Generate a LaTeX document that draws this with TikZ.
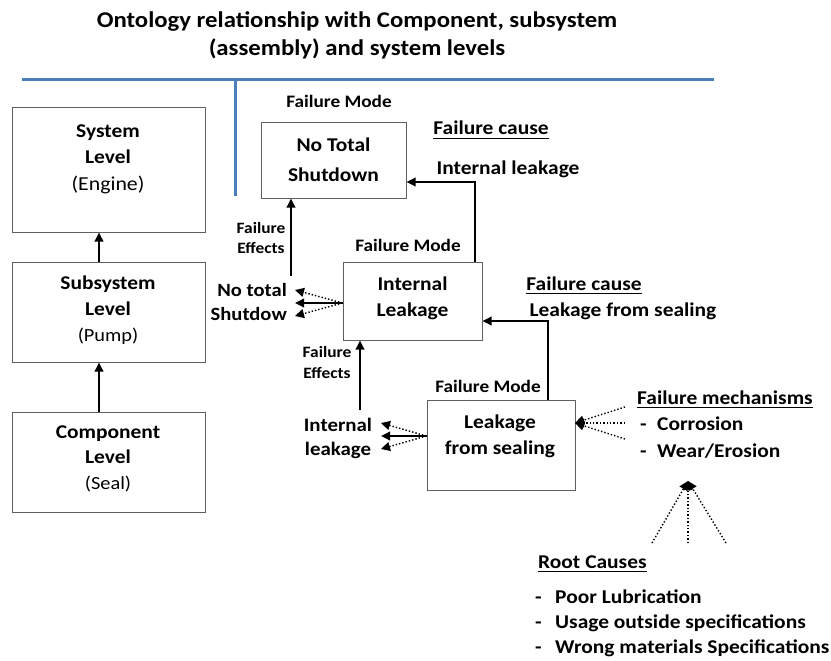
\documentclass[tikz,border=0pt]{standalone}
\usepackage{fontspec}
\setmainfont{Carlito}[FakeStretch=1.1]
\usetikzlibrary{arrows.meta}
\definecolor{rulerblue}{RGB}{74,126,187}
\definecolor{boxgrey}{RGB}{95,95,95}
\newcommand{\fsz}[1]{\fontsize{#1}{#1}\selectfont}
\begin{document}
\begin{tikzpicture}[x=1pt,y=-1pt,
  box/.style={draw=boxgrey,line width=1pt,inner sep=0,fill=white},
  txt/.style={inner sep=0,anchor=base,font=\bfseries\fsz{19.5}},
  small/.style={inner sep=0,anchor=base,font=\bfseries\fsz{17.5}},
  tiny/.style={inner sep=0,anchor=base,font=\bfseries\fsz{15.8}},
  plain/.style={inner sep=0,anchor=base,font=\fsz{#1}},
  conn/.style={line width=1.8pt,-{Triangle[length=9pt,width=8.5pt]}},
  dconn/.style={line width=1.4pt,dotted,-{Triangle[length=9pt,width=9pt]}},
  ulined/.style={line width=1.3pt},
  ruler/.style={draw=rulerblue,line width=3pt}]
\useasboundingbox (0,0) rectangle (831,661);

% title
\node[txt,font=\bfseries\fsz{22.5}] (t1) at (357,28) {Ontology relationship with Component, subsystem};
\node[txt,font=\bfseries\fsz{22.5}] (t2) at (357,56) {(assembly) and system levels};
\coordinate (rl) at (22,80);
\coordinate (rr) at (714,80);
\coordinate (rv) at (235,80);
\coordinate (rb) at (235,196);
\draw[ruler] (rl) -- (rr);
\draw[ruler] (rv) -- (rb);

% level boxes
\node[box,minimum width=193pt,minimum height=124pt] (sys) at (108.5,170) {};
\node[box,minimum width=193pt,minimum height=100pt] (sub) at (108.5,312) {};
\node[box,minimum width=193pt,minimum height=100pt] (comp) at (108.5,462) {};
\node[txt] (sysa) at (108,137) {System};
\node[txt] (sysb) at (108,164) {Level};
\node[plain=19.8] (sysc) at (108,190) {(Engine)};
\node[txt] (suba) at (108,289) {Subsystem};
\node[txt] (subb) at (108,315) {Level};
\node[plain=18.5] (subc) at (108,341) {(Pump)};
\node[txt] (compa) at (108,438) {Component};
\node[txt] (compb) at (108,463) {Level};
\node[plain=18.5] (compc) at (108,489) {(Seal)};
\draw[conn] ([xshift=-9.5pt]sub.north) -- ([xshift=-9.5pt]sys.south);
\draw[conn] ([xshift=-9.5pt]comp.north) -- ([xshift=-9.5pt]sub.south);

% failure mode boxes
\node[box,minimum width=145pt,minimum height=75pt] (nt) at (333.5,160.5) {};
\node[box,minimum width=139pt,minimum height=78pt] (il) at (412.5,301) {};
\node[box,minimum width=148pt,minimum height=90pt] (ls) at (501,445) {};
\node[txt] (nta) at (333.5,151) {No Total};
\node[txt] (ntb) at (333.5,181) {Shutdown};
\node[txt] (ila) at (412.5,290) {Internal};
\node[txt] (ilb) at (412.5,316) {Leakage};
\node[txt] (lsa) at (500,428) {Leakage};
\node[txt] (lsb) at (500,454) {from sealing};
\node[small] (fm1) at (339,107) {Failure Mode};
\node[small] (fm2) at (408,251) {Failure Mode};
\node[small] (fm3) at (488,392) {Failure Mode};

% failure causes
\node[txt] (fc1) at (491,135) {Failure cause};
\draw[ulined] ([yshift=-3.5pt]fc1.base west) -- ([yshift=-3.5pt]fc1.base east);
\node[txt] (fc1t) at (508,174) {Internal leakage};
\node[txt] (fc2) at (584,290) {Failure cause};
\draw[ulined] ([yshift=-3.5pt]fc2.base west) -- ([yshift=-3.5pt]fc2.base east);
\node[txt] (fc2t) at (623,316) {Leakage from sealing};
\draw[conn] ([xshift=62.5pt]il.north) |- ([yshift=-21.5pt]nt.east);
\draw[conn] ([xshift=47pt]ls.north) |- ([yshift=-20pt]il.east);

% failure effects of the internal leakage
\node[tiny] (fe1a) at (261,233) {Failure};
\node[tiny] (fe1b) at (261,253) {Effects};
\coordinate (fe1s) at (291,276);
\draw[conn] (fe1s) -- (fe1s |- nt.south);
\node[txt,anchor=base east,font=\bfseries\fsz{18.7}] (nsa) at (287,296) {No total};
\node[txt,anchor=base east,font=\bfseries\fsz{18.7}] (nsb) at (287,320) {Shutdow};
\coordinate (ns1) at (295,290);
\coordinate (ns2) at (295,303);
\coordinate (ns3) at (295,316);
\draw[dconn] ([yshift=-2pt]il.west) -- (ns1);
\draw[conn] ([yshift=-2pt]il.west) -- (ns2);
\draw[dconn] ([yshift=-2pt]il.west) -- (ns3);

% failure effects of the sealing leakage
\node[tiny] (fe2a) at (327,357) {Failure};
\node[tiny] (fe2b) at (327,378) {Effects};
\coordinate (fe2s) at (360,410);
\draw[conn] (fe2s) -- (fe2s |- il.south);
\node[txt,font=\bfseries\fsz{19}] (ika) at (338,431) {Internal};
\node[txt,font=\bfseries\fsz{19}] (ikb) at (338,455) {leakage};
\coordinate (ik1) at (381,423);
\coordinate (ik2) at (381,436);
\coordinate (ik3) at (381,449);
\draw[dconn] ([yshift=9pt]ls.west) -- (ik1);
\draw[conn] ([yshift=9pt]ls.west) -- (ik2);
\draw[dconn] ([yshift=9pt]ls.west) -- (ik3);

% failure mechanisms
\node[txt,anchor=base west] (mech) at (637,404) {Failure mechanisms};
\draw[ulined] ([yshift=-3.5pt]mech.base west) -- ([yshift=-3.5pt]mech.base east);
\node[txt,anchor=base west] (m1d) at (640,430) {-};
\node[txt,anchor=base west] (m1) at (657,430) {Corrosion};
\node[txt,anchor=base west] (m2d) at (640,457) {-};
\node[txt,anchor=base west] (m2) at (657,457) {Wear/Erosion};
\coordinate (mt) at (575,423);
\coordinate (ms1) at (625,407);
\coordinate (ms2) at (625,423);
\coordinate (ms3) at (625,439);
\draw[dconn] (ms1) -- (mt);
\draw[dconn] (ms2) -- (mt);
\draw[dconn] (ms3) -- (mt);

% root causes
\coordinate (rt) at (688,481);
\coordinate (rs1) at (652,543);
\coordinate (rs2) at (688,543);
\coordinate (rs3) at (726,543);
\draw[dconn] (rs1) -- (rt);
\draw[dconn] (rs2) -- (rt);
\draw[dconn] (rs3) -- (rt);
\node[txt,anchor=base west] (rc) at (538,568) {Root Causes};
\draw[ulined] ([yshift=-3.5pt]rc.base west) -- ([yshift=-3.5pt]rc.base east);
\node[txt,anchor=base west] (r1d) at (535,603) {-};
\node[txt,anchor=base west] (r1) at (555,603) {Poor Lubrication};
\node[txt,anchor=base west] (r2d) at (535,628) {-};
\node[txt,anchor=base west] (r2) at (555,628) {Usage outside specifications};
\node[txt,anchor=base west] (r3d) at (535,653) {-};
\node[txt,anchor=base west] (r3) at (555,653) {Wrong materials Specifications};
\end{tikzpicture}
\end{document}
